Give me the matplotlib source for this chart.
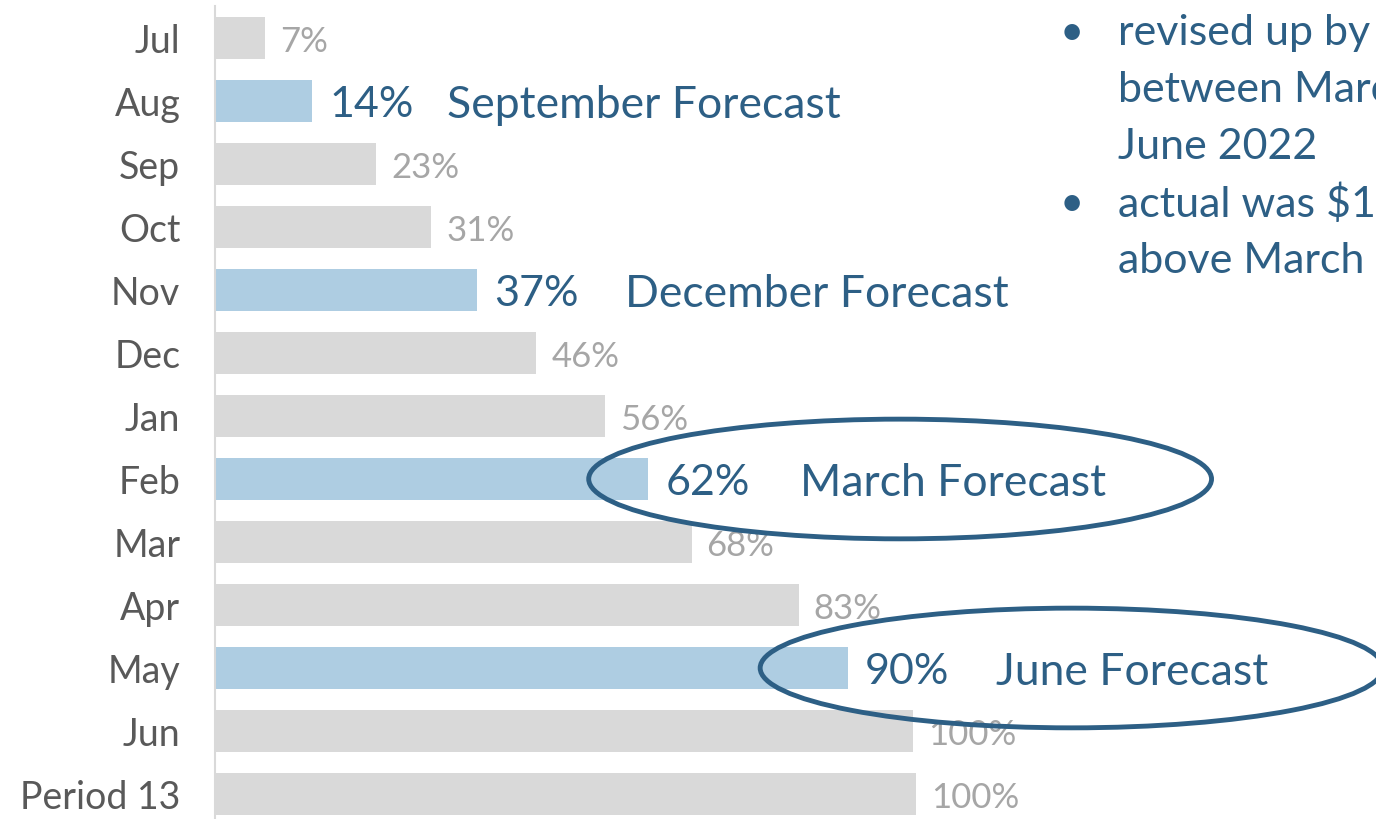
import matplotlib.pyplot as plt
from matplotlib.patches import Ellipse

plt.rcParams['font.family'] = ['Lato', 'DejaVu Sans']

months = ['Jul', 'Aug', 'Sep', 'Oct', 'Nov', 'Dec', 'Jan', 'Feb', 'Mar',
          'Apr', 'May', 'Jun', 'Period 13']
pct = [7.1, 13.9, 23.0, 30.9, 37.4, 45.9, 55.8, 61.9, 68.1, 83.4, 90.4, 99.8, 100.2]

# bars that fed a forecast, and the forecast name
forecast_month = ['Aug', 'Nov', 'Feb', 'May']
forecast_name = ['September Forecast', 'December Forecast', 'March Forecast', 'June Forecast']
name_gap = [135, 148, 152, 148]  # px from bar end
circled = ['Feb', 'May']
circle_shift = [36, 32]

notes = [('•', 'revised up by'), ('', 'between March and'), ('', 'June 2022'),
         ('•', 'actual was $1'), ('', 'above March')]

GREY_BAR = '#d9d9d9'
BLUE_BAR = '#aecde2'
DARK_BLUE = '#2d5f85'
GREY_TXT = '#a6a6a6'
LABEL_TXT = '#595959'

fig = plt.figure(figsize=(13.76, 8.2), dpi=100)
ax = fig.add_axes([215 / 1376, 0, 1 - 215 / 1376, 1])

y = list(range(len(months)))
colors = [BLUE_BAR if m in forecast_month else GREY_BAR for m in months]
ax.barh(y, pct, height=0.67, color=colors, zorder=2)

ax.set_xlim(0, 165.9)
ax.set_ylim(12.397, -0.619)
ax.set_yticks(y)
ax.set_yticklabels(months, fontsize=27, color=LABEL_TXT)
ax.tick_params(axis='y', length=0, pad=25)
ax.set_xticks([])
for s in ['top', 'right', 'bottom']:
    ax.spines[s].set_visible(False)
ax.spines['left'].set_color('#d9d9d9')
ax.spines['left'].set_linewidth(1.5)
ax.spines['left'].set_bounds(-0.5, 12.397)

for i, (m, v) in enumerate(zip(months, pct)):
    if m in forecast_month:
        j = forecast_month.index(m)
        ax.annotate(f'{round(v)}%', (v, i), xytext=(17, 0), textcoords='offset pixels',
                    va='center_baseline', ha='left', fontsize=31, color=DARK_BLUE, zorder=3)
        ax.annotate(forecast_name[j], (v, i), xytext=(name_gap[j], 0), textcoords='offset pixels',
                    va='center_baseline', ha='left', fontsize=32, color=DARK_BLUE, zorder=3)
    else:
        ax.annotate(f'{round(v)}%', (v, i), xytext=(15, 0), textcoords='offset pixels',
                    va='center_baseline', ha='left', fontsize=25, color=GREY_TXT, zorder=3)

for m, dx in zip(circled, circle_shift):
    i = months.index(m)
    v = pct[i]
    ax.add_patch(Ellipse((v + dx, i), 89, 1.9, fill=False, edgecolor=DARK_BLUE,
                         linewidth=3.5, zorder=4, clip_on=False))

for k, (b, t) in enumerate(notes):
    yy = 1 - (33 + 57 * k) / 820
    if b:
        fig.text(1060 / 1376, yy, b, fontsize=30, color=DARK_BLUE, ha='left', va='center')
    fig.text(1118 / 1376, yy, t, fontsize=31, color=DARK_BLUE, ha='left', va='center')

fig.savefig('out.png', dpi=100)
